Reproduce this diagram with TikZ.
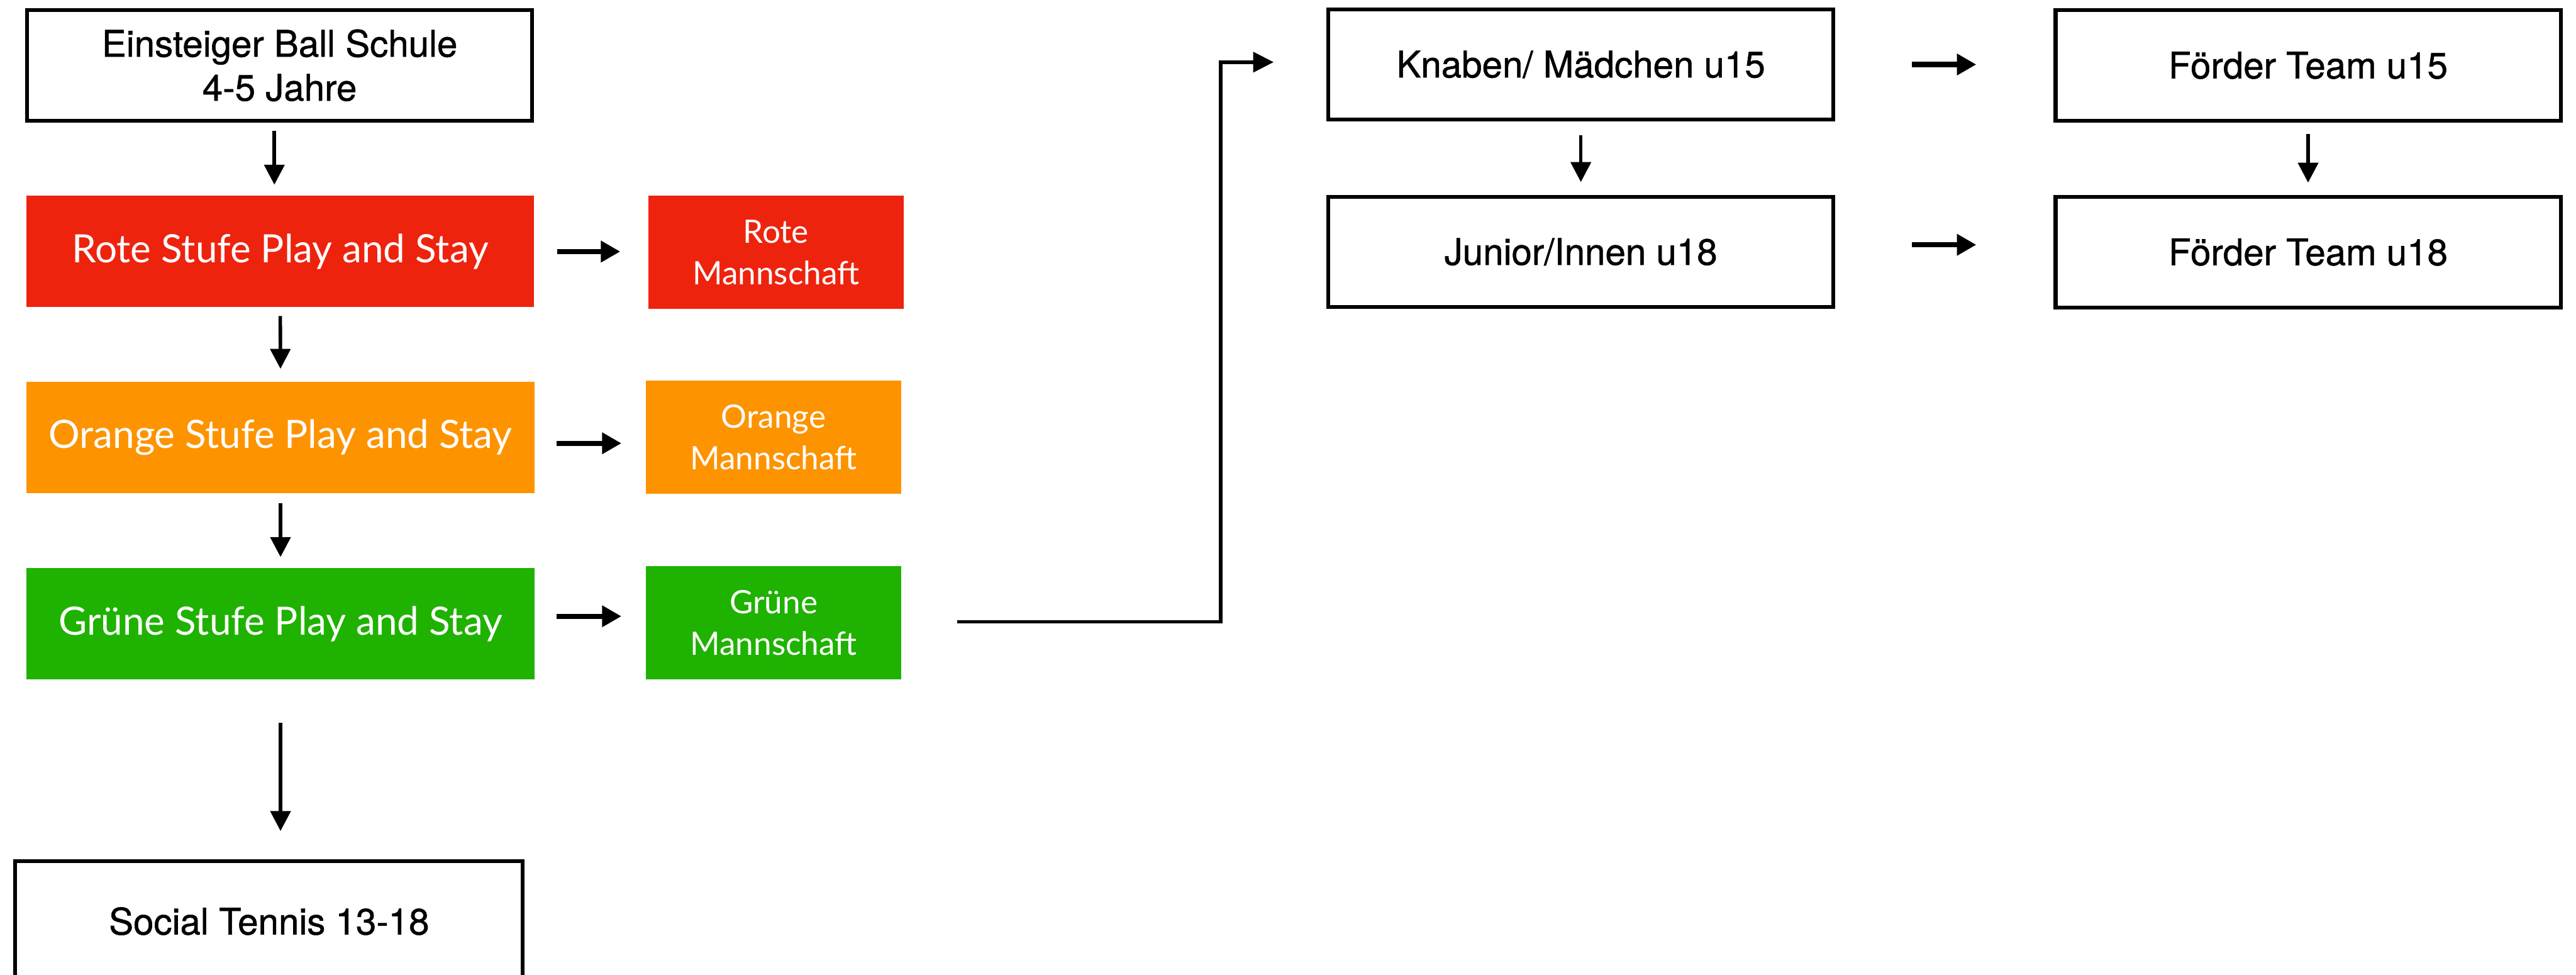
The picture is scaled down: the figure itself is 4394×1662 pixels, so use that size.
\documentclass[tikz,border=0pt]{standalone}
\usepackage{fontspec}
\setmainfont[RawFeature={embolden=0.9}]{TeX Gyre Heros}
\newfontfamily\stufefont{Lato}
\usetikzlibrary{arrows.meta}
\definecolor{stuferot}{RGB}{238,35,14}
\definecolor{stufeorange}{RGB}{254,147,0}
\definecolor{stufegruen}{RGB}{31,178,0}

\begin{document}
\begin{tikzpicture}[x=0.2pt,y=-0.2pt,
  outlined/.style={draw=black, line width=1.3pt, fill=white, inner sep=0pt,
    minimum width=172.3pt, minimum height=37.5pt, align=center,
    font=\fontsize{12.5}{15}\selectfont},
  stufe/.style={fill=#1, text=white, inner sep=0pt,
    minimum width=173.2pt, minimum height=38pt,
    font=\stufefont\fontsize{13.3}{15}\selectfont},
  team/.style={fill=#1, text=white, inner sep=0pt, align=center,
    minimum width=87pt, minimum height=38.6pt,
    font=\stufefont\fontsize{11}{14.2}\selectfont},
  downarrow/.style={draw, line width=1.2pt,
    -{Triangle[width=6.8pt,length=6.8pt]}},
  sidearrow/.style={draw, line width=1.8pt,
    -{Triangle[width=7pt,length=6.6pt]}},
  route/.style={draw, line width=1.2pt,
    -{Triangle[width=6.8pt,length=7pt]}}]

\useasboundingbox (0,0) rectangle (4394,1662);
\clip (0,0) rectangle (4394,1662);

% left column: entry level and play-and-stay stages
\node[outlined, minimum height=37.7pt] (ein) at (477,111.5) {Einsteiger Ball Schule\\4-5 Jahre};
\node[stufe=stuferot] (rote) at (478,429) {Rote Stufe Play and Stay};
\node[stufe=stufeorange] (orange) at (478.5,746) {Orange Stufe Play and Stay};
\node[stufe=stufegruen] (gruen) at (478.5,1064) {Grüne Stufe Play and Stay};
\node[outlined, minimum width=173.1pt, minimum height=41pt] (social) at (459,1571) {Social Tennis 13-18};

% team boxes
\node[team=stuferot] (roteM) at (1323.5,430.5) {Rote\\Mannschaft};
\node[team=stufeorange] (orangeM) at (1319.5,745.5) {Orange\\Mannschaft};
\node[team=stufegruen] (gruenM) at (1319.5,1062.5) {Grüne\\Mannschaft};

% right part: age groups and squads
\node[outlined] (knaben) at (2696.5,110) {Knaben/ Mädchen u15};
\node[outlined] (junior) at (2696.5,429.5) {Junior/Innen u18};
\node[outlined, minimum height=37.7pt] (f15) at (3937,111.5) {Förder Team u15};
\node[outlined, minimum height=37.7pt] (f18) at (3937,430) {Förder Team u18};

\coordinate (bend) at (2082,0);

% vertical progression
\draw[downarrow, shorten <=2.8pt, shorten >=3.6pt]
  ([xshift=-1.8pt]ein.south) -- ([xshift=-1.8pt]ein.south |- rote.north);
\draw[downarrow, shorten <=2.8pt, shorten >=4.2pt] (rote.south) -- (orange.north);
\draw[downarrow, shorten <=3.2pt, shorten >=3.6pt] (orange.south) -- (gruen.north);
\draw[downarrow, shorten <=14.6pt, shorten >=9.6pt] (gruen.south) -- (gruen.south |- social.north);

% stage to team
\draw[sidearrow, shorten <=7.6pt, shorten >=9.4pt] (rote.east) -- (rote.east -| roteM.west);
\draw[sidearrow, shorten <=7.4pt, shorten >=8.2pt]
  ([yshift=-2pt]orange.east) -- ([yshift=-2pt]orange.east -| orangeM.west);
\draw[sidearrow, shorten <=7.4pt, shorten >=8.2pt]
  ([yshift=2.6pt]gruen.east) -- ([yshift=2.6pt]gruen.east -| gruenM.west);

% green team on to the u15 group
\draw[route, shorten <=19pt, shorten >=18pt]
  ([yshift=0.4pt]gruenM.east) -- ([yshift=0.4pt]gruenM.east -| bend)
  |- ([yshift=0.8pt]knaben.west);

% right part connectors
\draw[downarrow, shorten <=4.8pt, shorten >=4.4pt] (knaben.south) -- (junior.north);
\draw[downarrow, shorten <=3.8pt, shorten >=4.2pt] (f15.south) -- (f18.north);
\draw[sidearrow, shorten <=26.2pt, shorten >=26.4pt] (knaben.east) -- (knaben.east -| f15.west);
\draw[sidearrow, shorten <=26.2pt, shorten >=26.4pt]
  ([yshift=2.4pt]junior.east) -- ([yshift=2.4pt]junior.east -| f18.west);
\end{tikzpicture}
\end{document}
